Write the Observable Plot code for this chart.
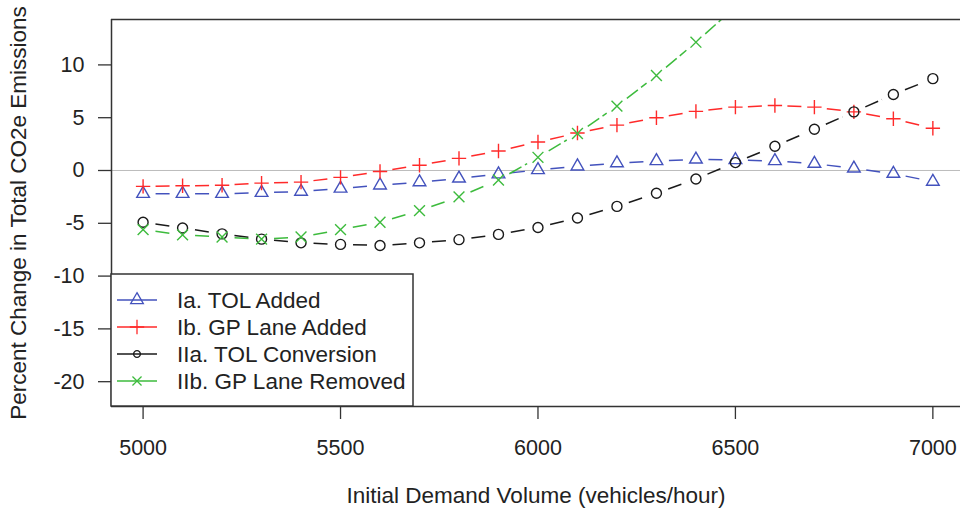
<!DOCTYPE html>
<html>
<head>
<meta charset="utf-8">
<script src="https://cdn.jsdelivr.net/npm/d3@7"></script>
<script src="https://cdn.jsdelivr.net/npm/@observablehq/plot@0.6"></script>
<style>
  html, body { margin: 0; padding: 0; background: white; }
</style>
</head>
<body>
<div id="chart"></div>
<script>
// ---- data ----
const volumes = [5000, 5100, 5200, 5300, 5400, 5500, 5600, 5700, 5800, 5900, 6000,
                 6100, 6200, 6300, 6400, 6500, 6600, 6700, 6800, 6900, 7000];
const tolAdded = [-2.2, -2.2, -2.2, -2.1, -2.0, -1.7, -1.4, -1.1, -0.75, -0.35, 0.05,
                  0.4, 0.7, 0.9, 1.05, 1.0, 0.9, 0.65, 0.2, -0.3, -1.05];
const gpAdded = [-1.5, -1.45, -1.4, -1.2, -1.1, -0.65, -0.1, 0.5, 1.15, 1.85, 2.7,
                 3.55, 4.3, 5.0, 5.6, 6.0, 6.15, 6.0, 5.55, 4.9, 4.0];
const tolConversion = [-4.9, -5.45, -6.0, -6.5, -6.85, -7.0, -7.1, -6.85, -6.55, -6.05, -5.4,
                       -4.5, -3.4, -2.15, -0.8, 0.75, 2.3, 3.9, 5.55, 7.2, 8.7];
const gpRemoved = [-5.6, -6.1, -6.3, -6.5, -6.3, -5.6, -4.9, -3.8, -2.5, -0.9, 1.25,
                   3.5, 6.1, 9.0, 12.15, 15.5];

const seriesNames = ["Ia. TOL Added", "Ib. GP Lane Added", "IIa. TOL Conversion", "IIb. GP Lane Removed"];
const seriesValues = [tolAdded, gpAdded, tolConversion, gpRemoved];
const seriesColors = ["#4352bd", "#ff2a2a", "#1a1a1a", "#3dbb3d"];
const seriesSymbols = ["triangle", "plus", "circle", "times"];
const seriesR = [4.7, 4.7, 5.0, 5.0];

const xTicks = [5000, 5500, 6000, 6500, 7000];
const yTicks = [-20, -15, -10, -5, 0, 5, 10];
const xDomain = [4920, 7070];
const yDomain = [-22.35, 14.3];
const xTitle = "Initial Demand Volume (vehicles/hour)";
const yTitle = "Percent Change in Total CO2e Emissions";

// ---- build tables ----
const points = [];
const segments = [];
seriesNames.forEach((name, s) => {
  const vals = seriesValues[s];
  vals.forEach((v, i) => {
    points.push({series: name, x: volumes[i], y: v});
    if (i > 0) segments.push({series: name, x1: volumes[i - 1], y1: vals[i - 1], x2: volumes[i], y2: v});
  });
});

const FONT = "'Liberation Sans', Arial, Helvetica, sans-serif";
const INK = "#222";

const marks = [
  Plot.ruleY([0], {stroke: "#bdbdbd", strokeWidth: 1}),
];
seriesNames.forEach((name, s) => {
  marks.push(Plot.arrow(segments.filter(d => d.series === name), {
    x1: "x1", y1: "y1", x2: "x2", y2: "y2",
    bend: 0, headLength: 0, insetStart: 12.5, insetEnd: 12.5,
    stroke: seriesColors[s], strokeWidth: 1.5, strokeDasharray: "14,4",
    strokeLinecap: "butt", clip: true
  }));
  marks.push(Plot.dot(points.filter(d => d.series === name), {
    x: "x", y: "y", symbol: seriesSymbols[s], r: seriesR[s],
    fill: "none", stroke: seriesColors[s], strokeWidth: 1.4, clip: true
  }));
});
marks.push(
  Plot.ruleY(yDomain, {stroke: "#333", strokeWidth: 1.5}),
  Plot.ruleX([xDomain[0]], {stroke: "#333", strokeWidth: 1.5}),
  Plot.axisX(xTicks, {tickSize: 13, tickPadding: 20, strokeWidth: 1.3, stroke: "#333", fill: INK, label: null, tickFormat: d => String(d)}),
  Plot.axisY(yTicks, {tickSize: 13, tickPadding: 14, strokeWidth: 1.3, stroke: "#333", fill: INK, label: null, tickFormat: d => String(d)}),
  Plot.text([xTitle], {frameAnchor: "bottom", textAnchor: "middle", dy: 96, fill: INK, fontSize: 22.5}),
  Plot.text([yTitle], {frameAnchor: "left", textAnchor: "middle", dx: -93, rotate: -90, fill: INK, fontSize: 22.5})
);

const svg = Plot.plot({
  width: 960,
  height: 515,
  marginTop: 19,
  marginBottom: 109,
  marginLeft: 111,
  marginRight: 0,
  x: {domain: xDomain},
  y: {domain: yDomain},
  style: {fontFamily: FONT, fontSize: "21.5px", color: INK, background: "white", overflow: "visible"},
  marks
});

// ---- legend (drawn into the same SVG) ----
const lg = d3.select(svg).append("g").attr("text-anchor", "start");
lg.append("rect")
  .attr("x", 111).attr("y", 274).attr("width", 302).attr("height", 132)
  .attr("fill", "white").attr("stroke", "#333").attr("stroke-width", 1.5);
const symMap = {triangle: d3.symbolTriangle, plus: d3.symbolPlus, circle: d3.symbolCircle, times: d3.symbolTimes};
const legendR = [4.7, 4.7, 3.4, 4.2];
seriesNames.forEach((name, s) => {
  const cy = 300 + s * 27;
  lg.append("line").attr("x1", 117).attr("x2", 157).attr("y1", cy).attr("y2", cy)
    .attr("stroke", seriesColors[s]).attr("stroke-width", 1.3);
  lg.append("path")
    .attr("d", d3.symbol(symMap[seriesSymbols[s]], Math.PI * legendR[s] * legendR[s])())
    .attr("transform", `translate(137,${cy})`)
    .attr("fill", "none").attr("stroke", seriesColors[s]).attr("stroke-width", 1.3);
  lg.append("text").attr("x", 177).attr("y", cy).attr("dy", "0.35em")
    .attr("text-anchor", "start")
    .attr("fill", INK).style("font-family", FONT).style("font-size", "22.5px")
    .text(name);
});

document.getElementById("chart").appendChild(svg);
</script>
</body>
</html>
